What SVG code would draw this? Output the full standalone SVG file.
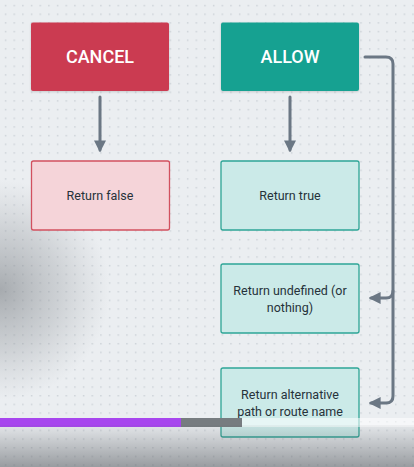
<svg xmlns="http://www.w3.org/2000/svg" width="414" height="467" viewBox="0 0 414 467">
<defs>
<pattern id="dots" x="0" y="0" width="8.67" height="8.67" patternUnits="userSpaceOnUse">
<rect x="5" y="5" width="1.2" height="1.2" fill="#bcc3ca"/>
</pattern>
<radialGradient id="shade" cx="0" cy="290" r="110" gradientUnits="userSpaceOnUse">
<stop offset="0" stop-color="#6e7378" stop-opacity="0.55"/>
<stop offset="0.55" stop-color="#8a8f94" stop-opacity="0.3"/>
<stop offset="1" stop-color="#9a9ea2" stop-opacity="0"/>
</radialGradient>
<linearGradient id="bottom" x1="0" y1="425" x2="0" y2="467" gradientUnits="userSpaceOnUse">
<stop offset="0" stop-color="#55595e" stop-opacity="0.05"/>
<stop offset="1" stop-color="#55595e" stop-opacity="0.55"/>
</linearGradient>
<marker id="arr" viewBox="0 0 10 10" refX="8" refY="5" markerWidth="4" markerHeight="4" orient="auto" markerUnits="strokeWidth">
<path d="M0,0 L10,5 L0,10 z" fill="#6b7784"/>
</marker>
<filter id="sh" x="-10%" y="-10%" width="120%" height="130%">
<feDropShadow dx="0" dy="1" stdDeviation="1" flood-color="#000" flood-opacity="0.15"/>
</filter>
</defs>
<style>
text{font-family:"Roboto","DejaVu Sans",sans-serif;text-anchor:middle}
.big{font-size:18px;fill:#ffffff;font-weight:500}
.sm{font-size:12.5px;fill:#26323a}
.conn{fill:none;stroke:#6b7784;stroke-width:3;stroke-linecap:round;stroke-linejoin:round}
</style>
<rect width="414" height="467" fill="#ebeef1"/>
<rect width="414" height="467" fill="url(#dots)"/>
<rect width="414" height="467" fill="url(#shade)"/>

<g id="connectors">
<path class="conn" d="M100,97 V150" marker-end="url(#arr)"/>
<path class="conn" d="M290,97 V150" marker-end="url(#arr)"/>
<path class="conn" d="M365,57 H386 Q393,57 393,64 V291 Q393,298 386,298 H371" marker-end="url(#arr)"/>
<path class="conn" d="M393,291 V396 Q393,403 386,403 H371" marker-end="url(#arr)"/>
</g>

<g id="cancel">
<rect x="31" y="22.5" width="138" height="68.5" rx="2" fill="#cb3b51" filter="url(#sh)"/>
<text class="big" x="100" y="63">CANCEL</text>
</g>
<g id="allow">
<rect x="221" y="22.5" width="138" height="68.5" rx="2" fill="#19a191" filter="url(#sh)"/>
<text class="big" x="290" y="63">ALLOW</text>
</g>
<g id="return-false">
<rect x="31.5" y="161" width="138" height="69" rx="2" fill="#f5d4d9" stroke="#d2505f" stroke-width="1.3"/>
<text class="sm" x="100" y="200">Return false</text>
</g>
<g id="return-true">
<rect x="221" y="161" width="138" height="69" rx="2" fill="#cbeae8" stroke="#2ea596" stroke-width="1.3"/>
<text class="sm" x="290" y="200">Return true</text>
</g>
<g id="return-undefined">
<rect x="221" y="264" width="138" height="69" rx="2" fill="#cbeae8" stroke="#2ea596" stroke-width="1.3"/>
<text class="sm" x="290" y="295">Return undefined (or</text>
<text class="sm" x="290" y="312">nothing)</text>
</g>
<g id="return-alternative">
<rect x="221" y="368" width="138" height="69" rx="2" fill="#cbeae8" stroke="#2ea596" stroke-width="1.3"/>
<text class="sm" x="290" y="399">Return alternative</text>
<text class="sm" x="290" y="416">path or route name</text>
</g>

<rect x="0" y="418" width="414" height="9" fill="#ffffff" fill-opacity="0.55"/>
<rect x="181" y="418" width="61" height="9" fill="#777c80"/>
<rect x="0" y="418" width="181" height="9" fill="#a746ee"/>
<rect x="0" y="425" width="414" height="42" fill="url(#bottom)"/>
</svg>
